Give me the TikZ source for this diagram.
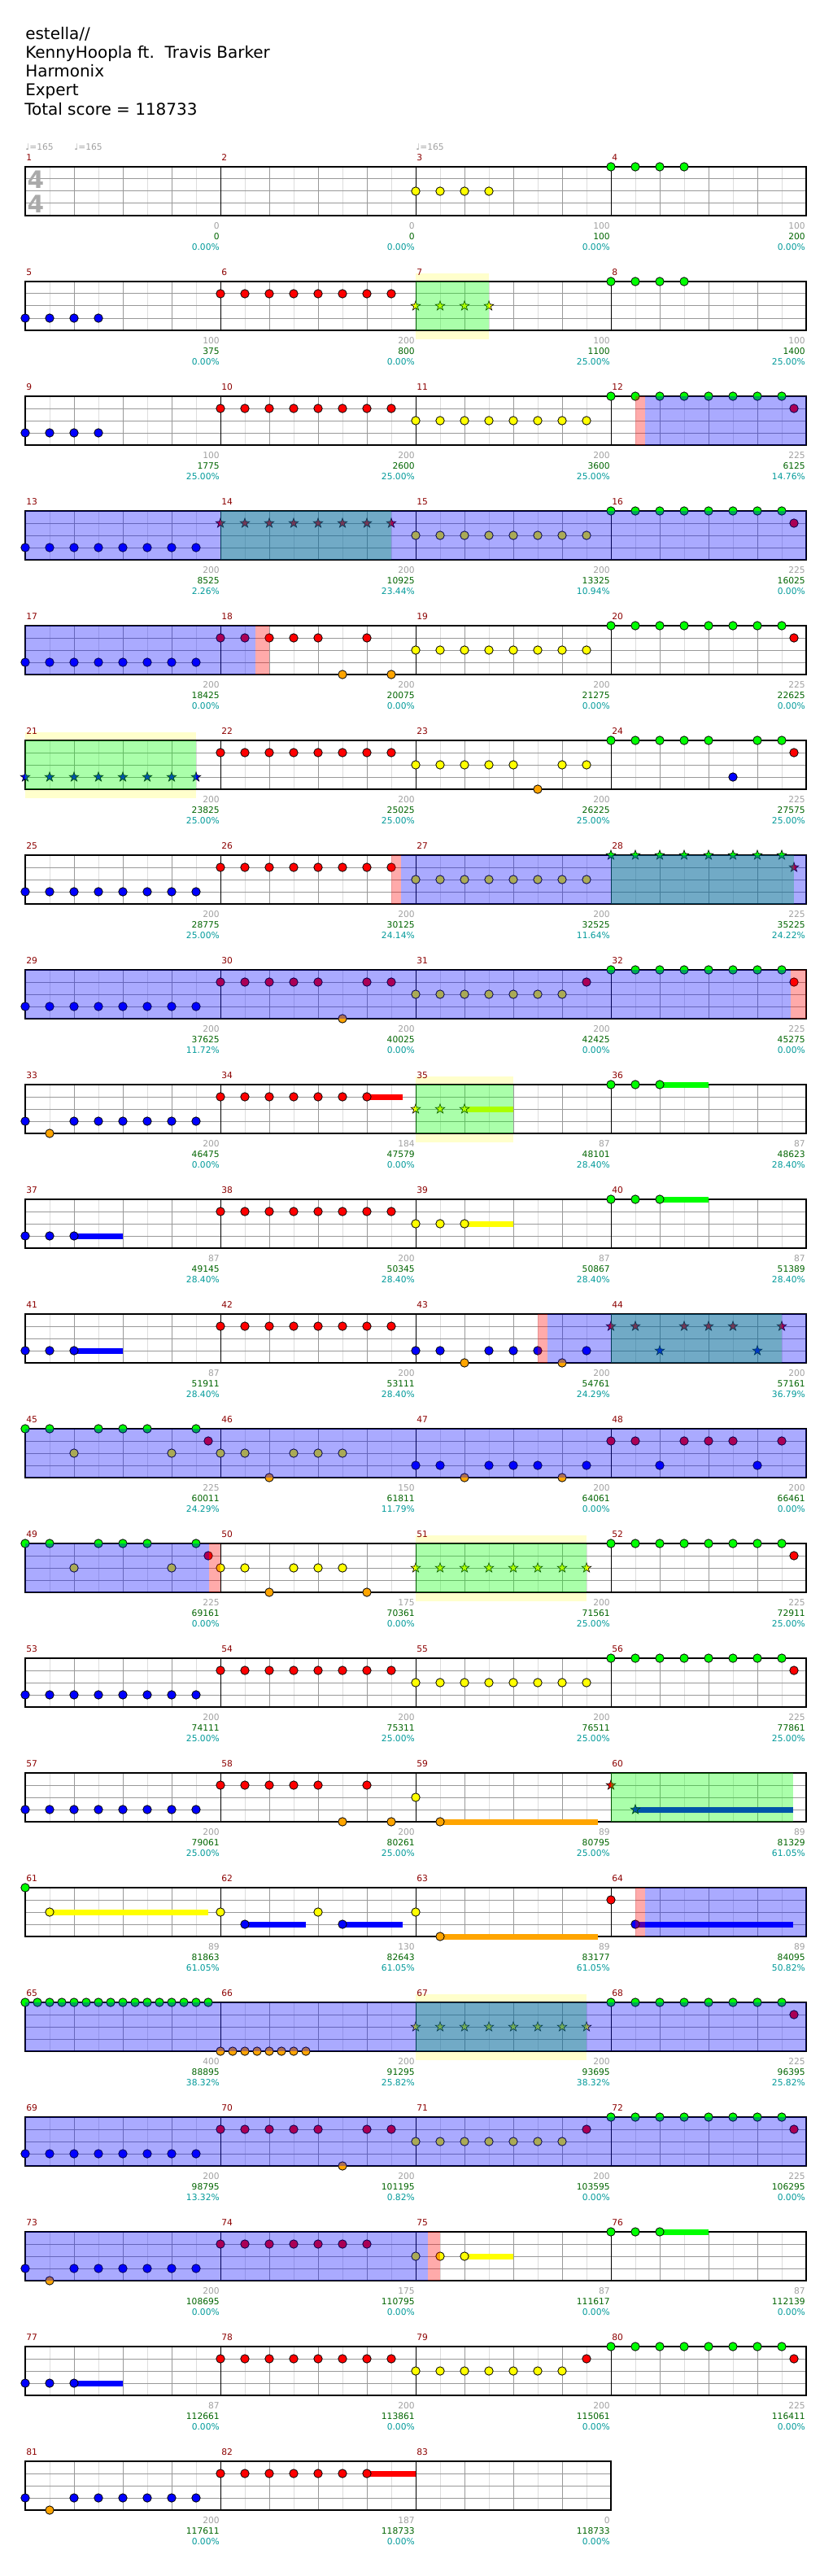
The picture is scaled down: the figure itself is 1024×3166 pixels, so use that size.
\documentclass[tikz,border=0pt]{standalone}
\usepackage{fontspec}
\setmainfont{DejaVu Sans}
\definecolor{ngreen}{HTML}{00FF00}
\definecolor{nred}{HTML}{FF0000}
\definecolor{nyellow}{HTML}{FFFF00}
\definecolor{nblue}{HTML}{0000FF}
\definecolor{norange}{HTML}{FFA500}
\definecolor{lightC}{HTML}{DDDDDD}
\definecolor{grayC}{HTML}{999999}
\definecolor{haloC}{HTML}{FFFFCC}
\definecolor{mnumC}{HTML}{8B0000}
\definecolor{glabC}{HTML}{A0A0A0}
\definecolor{slabC}{HTML}{006400}
\definecolor{plabC}{HTML}{009999}
\definecolor{tsigC}{HTML}{AAAAAA}

\newcommand\staffrow[2]{%
 \pgfmathsetmacro\ty{205+141*(#1-1)}%
 \pgfmathsetmacro\xe{31+240*#2}%
 \fill[white] (31,\ty) rectangle (\xe,{\ty+60});
 \foreach \m in {1,...,#2}{
   \foreach \o in {30,90,150,210}{\draw[lightl] ({31+240*\m-240+\o},\ty) -- ++(0,60);}
   \foreach \o in {60,120,180}{\draw[grayl] ({31+240*\m-240+\o},\ty) -- ++(0,60);}
 }
 \foreach \o in {15,30,45}{\draw[grayl] (31,{\ty+\o}) -- (\xe,{\ty+\o});}
 \foreach \m in {1,...,#2}{\draw[measl] ({31+240*\m-240},\ty) -- ++(0,60);}
 \draw[borderl] (31,\ty) rectangle (\xe,{\ty+60});
}
\newcommand\nts[3]{%
 \pgfmathsetmacro\ny{205+141*(#1-1)+15*#2}%
 \foreach \k in {#3}{%
  \edef\tmpc{\ifcase#2 ngreen\or nred\or nyellow\or nblue\or norange\fi}%
  \filldraw[fill=\tmpc,draw=black,line width=0.2mm] ({31+30*\k},\ny) circle[radius=1.3mm];
 }}
\newcommand\sts[3]{%
 \pgfmathsetmacro\ny{205+141*(#1-1)+15*#2}%
 \foreach \k in {#3}{%
  \edef\tmpc{\ifcase#2 ngreen\or nred\or nyellow\or nblue\or norange\fi}%
  \begin{scope}[shift={({31+30*\k},\ny)}]
  \filldraw[fill=\tmpc,draw=black,line width=0.15mm]
   (90:1.55mm) -- (126:0.62mm) -- (162:1.55mm) -- (198:0.62mm) -- (234:1.55mm) -- (270:0.62mm)
   -- (306:1.55mm) -- (342:0.62mm) -- (18:1.55mm) -- (54:0.62mm) -- cycle;
  \end{scope}
 }}
\newcommand\sus[4]{%
 \pgfmathsetmacro\ny{205+141*(#1-1)+15*#2}%
 \edef\tmpc{\ifcase#2 ngreen\or nred\or nyellow\or nblue\or norange\fi}%
 \fill[fill=\tmpc] ({31+30*#3},{\ny-3.5}) rectangle ({31+30*#4},{\ny+3.5});
}
\newcommand\ovl[4]{%
 \pgfmathsetmacro\ty{205+141*(#1-1)}%
 \fill[fill=#4,fill opacity=0.3333] ({31+30*#2},\ty) rectangle ({31+30*#3},{\ty+60});
}
\newcommand\halo[3]{%
 \pgfmathsetmacro\ty{205+141*(#1-1)}%
 \fill[haloC] ({31+30*#2},{\ty-10}) rectangle ({31+30*#3},{\ty+71});
}
\newcommand\lab[6]{%
 \pgfmathsetmacro\ty{205+141*(#1-1)}%
 \pgfmathsetmacro\xs{31+240*(#2-1)}%
 \pgfmathsetmacro\xe{31+240*#2}%
 \node[mnum] (mn#3) at ({\xs+1},{\ty-11}) {#3};
 \node[glab] (mg#3) at ({\xe-1},{\ty+73}) {#4};
 \node[slab] (ms#3) at ({\xe-1},{\ty+86}) {#5};
 \node[plab] (mp#3) at ({\xe-1},{\ty+99}) {#6\%};
}

\begin{document}
\begin{tikzpicture}[x=0.25mm,y=-0.25mm,
  lightl/.style={draw=lightC,line width=0.25mm},
  grayl/.style={draw=grayC,line width=0.25mm},
  measl/.style={draw=black,line width=0.25mm},
  borderl/.style={draw=black,line width=0.3mm},
  small/.style={font=\fontsize{7.6}{8}\selectfont,inner sep=0pt},
  mnum/.style={small,text=mnumC,anchor=west},
  glab/.style={small,text=glabC,anchor=east},
  slab/.style={small,text=slabC,anchor=east},
  plab/.style={small,text=plabC,anchor=east},
  titletext/.style={font=\fontsize{14.2}{16}\selectfont,anchor=base west,inner sep=0pt},
  tempo/.style={small,text=glabC,anchor=west},
  tsig/.style={font=\fontsize{21}{24}\selectfont\bfseries,text=tsigC,inner sep=0pt}]
\useasboundingbox (0,0) rectangle (1024,3166);

% title
\node[titletext] (title1) at (31,49) {estella//};
\node[titletext] (title2) at (31,72) {KennyHoopla ft.\ \ Travis Barker};
\node[titletext] (title3) at (31,95) {Harmonix};
\node[titletext] (title4) at (31,118) {Expert};
\node[titletext] (title5) at (30,141.7) {Total score = 118733};

% row 1
\staffrow{1}{4}
\nts{1}{2}{16,...,19}
\nts{1}{0}{24,...,27}
\node[tempo] (tempo1) at (31,181) {♩=165};
\node[tempo] (tempo2) at (91,181) {♩=165};
\node[tempo] (tempo3) at (511,181) {♩=165};
\node[tsig] (tsig1) at (44,221) {4};
\node[tsig] (tsig2) at (44,251) {4};
\lab{1}{1}{1}{0}{0}{0.00}
\lab{1}{2}{2}{0}{0}{0.00}
\lab{1}{3}{3}{100}{100}{0.00}
\lab{1}{4}{4}{100}{200}{0.00}

% row 2
\halo{2}{16}{19}
\staffrow{2}{4}
\nts{2}{3}{0,...,3}
\nts{2}{1}{8,...,15}
\sts{2}{2}{16,...,19}
\nts{2}{0}{24,...,27}
\ovl{2}{16}{19}{ngreen}
\lab{2}{1}{5}{100}{375}{0.00}
\lab{2}{2}{6}{200}{800}{0.00}
\lab{2}{3}{7}{100}{1100}{25.00}
\lab{2}{4}{8}{100}{1400}{25.00}

% row 3
\staffrow{3}{4}
\nts{3}{3}{0,...,3}
\nts{3}{1}{8,...,15}
\nts{3}{2}{16,...,23}
\nts{3}{0}{24,...,31}
\nts{3}{1}{31.5}
\ovl{3}{25}{25.4}{nred}
\ovl{3}{25.4}{32}{nblue}
\lab{3}{1}{9}{100}{1775}{25.00}
\lab{3}{2}{10}{200}{2600}{25.00}
\lab{3}{3}{11}{200}{3600}{25.00}
\lab{3}{4}{12}{225}{6125}{14.76}

% row 4
\staffrow{4}{4}
\nts{4}{3}{0,...,7}
\sts{4}{1}{8,...,15}
\nts{4}{2}{16,...,23}
\nts{4}{0}{24,...,31}
\nts{4}{1}{31.5}
\ovl{4}{8}{15}{ngreen}
\ovl{4}{0}{32}{nblue}
\lab{4}{1}{13}{200}{8525}{2.26}
\lab{4}{2}{14}{200}{10925}{23.44}
\lab{4}{3}{15}{200}{13325}{10.94}
\lab{4}{4}{16}{225}{16025}{0.00}

% row 5
\staffrow{5}{4}
\nts{5}{3}{0,...,7}
\nts{5}{1}{8,9,10,11,12,14}
\nts{5}{4}{13,15}
\nts{5}{2}{16,...,23}
\nts{5}{0}{24,...,31}
\nts{5}{1}{31.5}
\ovl{5}{0}{9.43}{nblue}
\ovl{5}{9.43}{10}{nred}
\lab{5}{1}{17}{200}{18425}{0.00}
\lab{5}{2}{18}{200}{20075}{0.00}
\lab{5}{3}{19}{200}{21275}{0.00}
\lab{5}{4}{20}{225}{22625}{0.00}

% row 6
\halo{6}{0}{7}
\staffrow{6}{4}
\sts{6}{3}{0,...,7}
\nts{6}{1}{8,...,15}
\nts{6}{2}{16,17,18,19,20,22,23}
\nts{6}{4}{21}
\nts{6}{0}{24,25,26,27,28,30,31}
\nts{6}{3}{29}
\nts{6}{1}{31.5}
\ovl{6}{0}{7}{ngreen}
\lab{6}{1}{21}{200}{23825}{25.00}
\lab{6}{2}{22}{200}{25025}{25.00}
\lab{6}{3}{23}{200}{26225}{25.00}
\lab{6}{4}{24}{225}{27575}{25.00}

% row 7
\staffrow{7}{4}
\nts{7}{3}{0,...,7}
\nts{7}{1}{8,...,15}
\nts{7}{2}{16,...,23}
\sts{7}{0}{24,...,31}
\sts{7}{1}{31.5}
\ovl{7}{24}{31.5}{ngreen}
\ovl{7}{15}{15.4}{nred}
\ovl{7}{15.4}{32}{nblue}
\lab{7}{1}{25}{200}{28775}{25.00}
\lab{7}{2}{26}{200}{30125}{24.14}
\lab{7}{3}{27}{200}{32525}{11.64}
\lab{7}{4}{28}{225}{35225}{24.22}

% row 8
\staffrow{8}{4}
\nts{8}{3}{0,...,7}
\nts{8}{1}{8,9,10,11,12,14,15}
\nts{8}{4}{13}
\nts{8}{2}{16,...,22}
\nts{8}{1}{23}
\nts{8}{0}{24,...,31}
\nts{8}{1}{31.5}
\ovl{8}{0}{31.38}{nblue}
\ovl{8}{31.38}{32}{nred}
\lab{8}{1}{29}{200}{37625}{11.72}
\lab{8}{2}{30}{200}{40025}{0.00}
\lab{8}{3}{31}{200}{42425}{0.00}
\lab{8}{4}{32}{225}{45275}{0.00}

% row 9
\halo{9}{16}{20}
\staffrow{9}{4}
\sus{9}{1}{14}{15.47}
\sus{9}{2}{18}{20}
\sus{9}{0}{26}{28}
\nts{9}{3}{0,2,3,4,5,6,7}
\nts{9}{4}{1}
\nts{9}{1}{8,...,14}
\sts{9}{2}{16,17,18}
\nts{9}{0}{24,25,26}
\ovl{9}{16}{20}{ngreen}
\lab{9}{1}{33}{200}{46475}{0.00}
\lab{9}{2}{34}{184}{47579}{0.00}
\lab{9}{3}{35}{87}{48101}{28.40}
\lab{9}{4}{36}{87}{48623}{28.40}

% row 10
\staffrow{10}{4}
\sus{10}{3}{2}{4}
\sus{10}{2}{18}{20}
\sus{10}{0}{26}{28}
\nts{10}{3}{0,1,2}
\nts{10}{1}{8,...,15}
\nts{10}{2}{16,17,18}
\nts{10}{0}{24,25,26}
\lab{10}{1}{37}{87}{49145}{28.40}
\lab{10}{2}{38}{200}{50345}{28.40}
\lab{10}{3}{39}{87}{50867}{28.40}
\lab{10}{4}{40}{87}{51389}{28.40}

% row 11
\staffrow{11}{4}
\sus{11}{3}{2}{4}
\nts{11}{3}{0,1,2}
\nts{11}{1}{8,...,15}
\nts{11}{3}{16,17,19,20,21,23}
\nts{11}{4}{18,22}
\sts{11}{1}{24,25,27,28,29,31}
\sts{11}{3}{26,30}
\ovl{11}{24}{31}{ngreen}
\ovl{11}{21}{21.4}{nred}
\ovl{11}{21.4}{32}{nblue}
\lab{11}{1}{41}{87}{51911}{28.40}
\lab{11}{2}{42}{200}{53111}{28.40}
\lab{11}{3}{43}{200}{54761}{24.29}
\lab{11}{4}{44}{200}{57161}{36.79}

% row 12
\staffrow{12}{4}
\nts{12}{0}{0,1,3,4,5,7}
\nts{12}{2}{2,6}
\nts{12}{1}{7.5}
\nts{12}{2}{8,9,11,12,13}
\nts{12}{4}{10}
\nts{12}{3}{16,17,19,20,21,23}
\nts{12}{4}{18,22}
\nts{12}{1}{24,25,27,28,29,31}
\nts{12}{3}{26,30}
\ovl{12}{0}{32}{nblue}
\lab{12}{1}{45}{225}{60011}{24.29}
\lab{12}{2}{46}{150}{61811}{11.79}
\lab{12}{3}{47}{200}{64061}{0.00}
\lab{12}{4}{48}{200}{66461}{0.00}

% row 13
\halo{13}{16}{23}
\staffrow{13}{4}
\nts{13}{0}{0,1,3,4,5,7}
\nts{13}{2}{2,6}
\nts{13}{1}{7.5}
\nts{13}{2}{8,9,11,12,13}
\nts{13}{4}{10,14}
\sts{13}{2}{16,...,23}
\nts{13}{0}{24,...,31}
\nts{13}{1}{31.5}
\ovl{13}{16}{23}{ngreen}
\ovl{13}{0}{7.52}{nblue}
\ovl{13}{7.52}{8}{nred}
\lab{13}{1}{49}{225}{69161}{0.00}
\lab{13}{2}{50}{175}{70361}{0.00}
\lab{13}{3}{51}{200}{71561}{25.00}
\lab{13}{4}{52}{225}{72911}{25.00}

% row 14
\staffrow{14}{4}
\nts{14}{3}{0,...,7}
\nts{14}{1}{8,...,15}
\nts{14}{2}{16,...,23}
\nts{14}{0}{24,...,31}
\nts{14}{1}{31.5}
\lab{14}{1}{53}{200}{74111}{25.00}
\lab{14}{2}{54}{200}{75311}{25.00}
\lab{14}{3}{55}{200}{76511}{25.00}
\lab{14}{4}{56}{225}{77861}{25.00}

% row 15
\staffrow{15}{4}
\sus{15}{4}{17}{23.48}
\sus{15}{3}{25}{31.47}
\nts{15}{3}{0,...,7}
\nts{15}{1}{8,9,10,11,12,14}
\nts{15}{4}{13,15}
\nts{15}{2}{16}
\nts{15}{4}{17}
\sts{15}{1}{24}
\sts{15}{3}{25}
\ovl{15}{24}{31.47}{ngreen}
\lab{15}{1}{57}{200}{79061}{25.00}
\lab{15}{2}{58}{200}{80261}{25.00}
\lab{15}{3}{59}{89}{80795}{25.00}
\lab{15}{4}{60}{89}{81329}{61.05}

% row 16
\staffrow{16}{4}
\sus{16}{2}{1}{7.5}
\sus{16}{3}{9}{11.5}
\sus{16}{3}{13}{15.48}
\sus{16}{4}{17}{23.48}
\sus{16}{3}{25}{31.47}
\nts{16}{0}{0}
\nts{16}{2}{1,8,12,16}
\nts{16}{3}{9,13}
\nts{16}{4}{17}
\nts{16}{1}{24}
\nts{16}{3}{25}
\ovl{16}{25}{25.4}{nred}
\ovl{16}{25.4}{32}{nblue}
\lab{16}{1}{61}{89}{81863}{61.05}
\lab{16}{2}{62}{130}{82643}{61.05}
\lab{16}{3}{63}{89}{83177}{61.05}
\lab{16}{4}{64}{89}{84095}{50.82}

% row 17
\halo{17}{16}{23}
\staffrow{17}{4}
\nts{17}{0}{0,0.5,1,1.5,2,2.5,3,3.5,4,4.5,5,5.5,6,6.5,7,7.5}
\nts{17}{4}{8,8.5,9,9.5,10,10.5,11,11.5}
\sts{17}{2}{16,...,23}
\nts{17}{0}{24,...,31}
\nts{17}{1}{31.5}
\ovl{17}{16}{23}{ngreen}
\ovl{17}{0}{32}{nblue}
\lab{17}{1}{65}{400}{88895}{38.32}
\lab{17}{2}{66}{200}{91295}{25.82}
\lab{17}{3}{67}{200}{93695}{38.32}
\lab{17}{4}{68}{225}{96395}{25.82}

% row 18
\staffrow{18}{4}
\nts{18}{3}{0,...,7}
\nts{18}{1}{8,9,10,11,12,14,15}
\nts{18}{4}{13}
\nts{18}{2}{16,...,22}
\nts{18}{1}{23}
\nts{18}{0}{24,...,31}
\nts{18}{1}{31.5}
\ovl{18}{0}{32}{nblue}
\lab{18}{1}{69}{200}{98795}{13.32}
\lab{18}{2}{70}{200}{101195}{0.82}
\lab{18}{3}{71}{200}{103595}{0.00}
\lab{18}{4}{72}{225}{106295}{0.00}

% row 19
\staffrow{19}{4}
\sus{19}{2}{18}{20}
\sus{19}{0}{26}{28}
\nts{19}{3}{0,2,3,4,5,6,7}
\nts{19}{4}{1}
\nts{19}{1}{8,...,14}
\nts{19}{2}{16,17,18}
\nts{19}{0}{24,25,26}
\ovl{19}{0}{16.5}{nblue}
\ovl{19}{16.5}{17}{nred}
\lab{19}{1}{73}{200}{108695}{0.00}
\lab{19}{2}{74}{175}{110795}{0.00}
\lab{19}{3}{75}{87}{111617}{0.00}
\lab{19}{4}{76}{87}{112139}{0.00}

% row 20
\staffrow{20}{4}
\sus{20}{3}{2}{4}
\nts{20}{3}{0,1,2}
\nts{20}{1}{8,...,15}
\nts{20}{2}{16,...,22}
\nts{20}{1}{23}
\nts{20}{0}{24,...,31}
\nts{20}{1}{31.5}
\lab{20}{1}{77}{87}{112661}{0.00}
\lab{20}{2}{78}{200}{113861}{0.00}
\lab{20}{3}{79}{200}{115061}{0.00}
\lab{20}{4}{80}{225}{116411}{0.00}

% row 21
\staffrow{21}{3}
\sus{21}{1}{14}{16}
\nts{21}{3}{0,2,3,4,5,6,7}
\nts{21}{4}{1}
\nts{21}{1}{8,...,14}
\lab{21}{1}{81}{200}{117611}{0.00}
\lab{21}{2}{82}{187}{118733}{0.00}
\lab{21}{3}{83}{0}{118733}{0.00}
\end{tikzpicture}
\end{document}
